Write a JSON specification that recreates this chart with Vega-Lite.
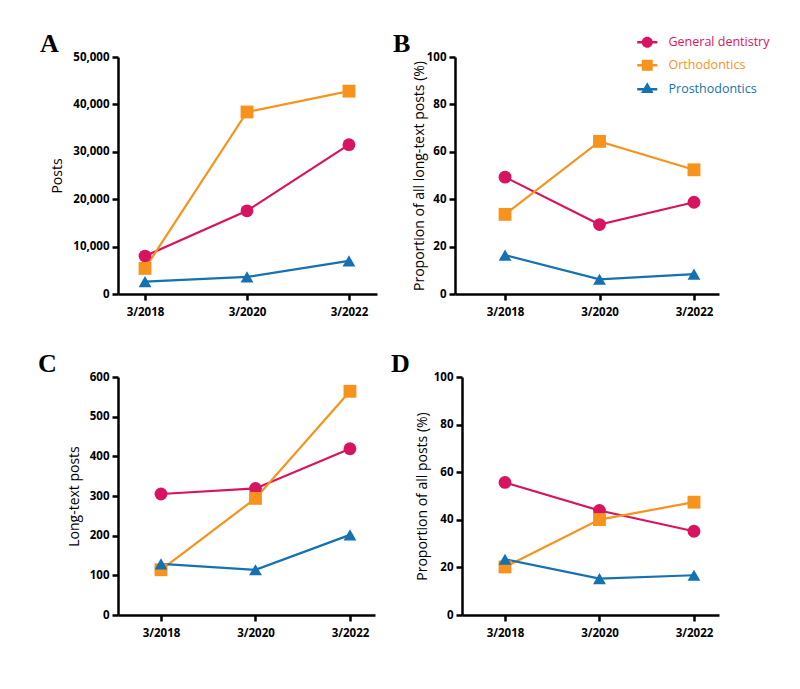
{
  "$schema": "https://vega.github.io/schema/vega-lite/v6.json",
  "padding": {"left": 38, "top": 31, "right": 5, "bottom": 5},
  "background": "white",
  "data": {"values": [
    {"panel": "A", "year": 2018, "specialty": "General dentistry", "value": 8000},
    {"panel": "A", "year": 2020, "specialty": "General dentistry", "value": 17550},
    {"panel": "A", "year": 2022, "specialty": "General dentistry", "value": 31500},
    {"panel": "A", "year": 2018, "specialty": "Orthodontics", "value": 5400},
    {"panel": "A", "year": 2020, "specialty": "Orthodontics", "value": 38400},
    {"panel": "A", "year": 2022, "specialty": "Orthodontics", "value": 42800},
    {"panel": "A", "year": 2018, "specialty": "Prosthodontics", "value": 2600},
    {"panel": "A", "year": 2020, "specialty": "Prosthodontics", "value": 3600},
    {"panel": "A", "year": 2022, "specialty": "Prosthodontics", "value": 7000},
    {"panel": "B", "year": 2018, "specialty": "General dentistry", "value": 49.3},
    {"panel": "B", "year": 2020, "specialty": "General dentistry", "value": 29.3},
    {"panel": "B", "year": 2022, "specialty": "General dentistry", "value": 38.7},
    {"panel": "B", "year": 2018, "specialty": "Orthodontics", "value": 33.6},
    {"panel": "B", "year": 2020, "specialty": "Orthodontics", "value": 64.4},
    {"panel": "B", "year": 2022, "specialty": "Orthodontics", "value": 52.4},
    {"panel": "B", "year": 2018, "specialty": "Prosthodontics", "value": 16.4},
    {"panel": "B", "year": 2020, "specialty": "Prosthodontics", "value": 6.2},
    {"panel": "B", "year": 2022, "specialty": "Prosthodontics", "value": 8.4},
    {"panel": "C", "year": 2018, "specialty": "General dentistry", "value": 305},
    {"panel": "C", "year": 2020, "specialty": "General dentistry", "value": 319},
    {"panel": "C", "year": 2022, "specialty": "General dentistry", "value": 419},
    {"panel": "C", "year": 2018, "specialty": "Orthodontics", "value": 114},
    {"panel": "C", "year": 2020, "specialty": "Orthodontics", "value": 294},
    {"panel": "C", "year": 2022, "specialty": "Orthodontics", "value": 564},
    {"panel": "C", "year": 2018, "specialty": "Prosthodontics", "value": 129},
    {"panel": "C", "year": 2020, "specialty": "Prosthodontics", "value": 114},
    {"panel": "C", "year": 2022, "specialty": "Prosthodontics", "value": 202},
    {"panel": "D", "year": 2018, "specialty": "General dentistry", "value": 55.7},
    {"panel": "D", "year": 2020, "specialty": "General dentistry", "value": 43.9},
    {"panel": "D", "year": 2022, "specialty": "General dentistry", "value": 35.2},
    {"panel": "D", "year": 2018, "specialty": "Orthodontics", "value": 20.2},
    {"panel": "D", "year": 2020, "specialty": "Orthodontics", "value": 40.1},
    {"panel": "D", "year": 2022, "specialty": "Orthodontics", "value": 47.4},
    {"panel": "D", "year": 2018, "specialty": "Prosthodontics", "value": 23.4},
    {"panel": "D", "year": 2020, "specialty": "Prosthodontics", "value": 15.3},
    {"panel": "D", "year": 2022, "specialty": "Prosthodontics", "value": 16.7}
  ]},
  "spacing": 33,
  "vconcat": [
    {
      "spacing": 16,
      "hconcat": [
        {
          "title": {"text": "A", "dx": -78, "dy": 10},
          "width": 259, "height": 237,
          "transform": [{"filter": "datum.panel === 'A'"}],
          "encoding": {
            "x": {"field": "year", "type": "quantitative", "scale": {"domain": [2017.47, 2022.55], "nice": false, "zero": false}, "axis": {"values": [2018, 2020, 2022], "labelExpr": "'3/' + datum.value", "title": null}},
            "y": {"field": "value", "type": "quantitative", "scale": {"domain": [0, 50000], "nice": false}, "axis": {"values": [0, 10000, 20000, 30000, 40000, 50000], "format": ",.0f", "title": "Posts"}},
            "color": {"field": "specialty", "type": "nominal", "scale": {"domain": ["General dentistry", "Orthodontics", "Prosthodontics"], "range": ["#D81460", "#F7931D", "#1572B0"]},
              "legend": {"title": null, "orient": "none", "legendX": 523, "legendY": -21, "padding": 0, "symbolSize": 100, "symbolStrokeWidth": 0, "symbolOpacity": 1, "labelOffset": 15, "rowPadding": 10, "labelFont": "Open Sans", "labelFontSize": 12.5,
                "encode": {"labels": {"update": {"fill": {"signal": "scale('color', datum.value)"}}}}}}
          },
          "layer": [
            {"mark": {"type": "line", "strokeWidth": 2.2}},
            {"mark": {"type": "point", "filled": true, "size": 165, "opacity": 1}, "encoding": {"shape": {"condition": [{"test": "datum.specialty === 'General dentistry'", "value": "circle"}, {"test": "datum.specialty === 'Orthodontics'", "value": "square"}], "value": "triangle-up"}}},
            {"mark": {"type": "point", "filled": true, "size": 100, "opacity": 0}, "encoding": {"shape": {"field": "specialty", "type": "nominal", "scale": {"domain": ["General dentistry", "Orthodontics", "Prosthodontics"], "range": ["M-2,-0.25H2V0.25H-2ZM-1.1,0A1.1,1.1,0,1,1,1.1,0A1.1,1.1,0,1,1,-1.1,0Z", "M-2,-0.25H2V0.25H-2ZM-1.1,-1.1H1.1V1.1H-1.1Z", "M-2,-0.25H2V0.25H-2ZM0,-1.4L1.25,0.75L-1.25,0.75Z"]},
              "legend": {"title": null, "orient": "none", "legendX": 523, "legendY": -21, "padding": 0, "symbolSize": 100, "symbolStrokeWidth": 0, "symbolOpacity": 1, "labelOffset": 15, "rowPadding": 10, "labelFont": "Open Sans", "labelFontSize": 12.5,
                "encode": {"labels": {"update": {"fill": {"signal": "scale('color', datum.value)"}}}}}}}}
          ]
        },
        {
          "title": {"text": "B", "dx": -62, "dy": 10},
          "width": 264, "height": 237,
          "transform": [{"filter": "datum.panel === 'B'"}],
          "encoding": {
            "x": {"field": "year", "type": "quantitative", "scale": {"domain": [2016.94, 2022.53], "nice": false, "zero": false}, "axis": {"values": [2018, 2020, 2022], "labelExpr": "'3/' + datum.value", "title": null}},
            "y": {"field": "value", "type": "quantitative", "scale": {"domain": [0, 100], "nice": false}, "axis": {"values": [0, 20, 40, 60, 80, 100], "format": "d", "title": "Proportion of all long-text posts (%)", "titlePadding": 0}},
            "color": {"field": "specialty", "type": "nominal", "scale": {"domain": ["General dentistry", "Orthodontics", "Prosthodontics"], "range": ["#D81460", "#F7931D", "#1572B0"]},
              "legend": {"title": null, "orient": "none", "legendX": 523, "legendY": -21, "padding": 0, "symbolSize": 100, "symbolStrokeWidth": 0, "symbolOpacity": 1, "labelOffset": 15, "rowPadding": 10, "labelFont": "Open Sans", "labelFontSize": 12.5,
                "encode": {"labels": {"update": {"fill": {"signal": "scale('color', datum.value)"}}}}}}
          },
          "layer": [
            {"mark": {"type": "line", "strokeWidth": 2.2}},
            {"mark": {"type": "point", "filled": true, "size": 165, "opacity": 1}, "encoding": {"shape": {"condition": [{"test": "datum.specialty === 'General dentistry'", "value": "circle"}, {"test": "datum.specialty === 'Orthodontics'", "value": "square"}], "value": "triangle-up"}}}
          ]
        }
      ]
    },
    {
      "spacing": 16,
      "hconcat": [
        {
          "title": {"text": "C", "dx": -80, "dy": 10},
          "width": 257, "height": 238,
          "transform": [{"filter": "datum.panel === 'C'"}],
          "encoding": {
            "x": {"field": "year", "type": "quantitative", "scale": {"domain": [2017.09, 2022.53], "nice": false, "zero": false}, "axis": {"values": [2018, 2020, 2022], "labelExpr": "'3/' + datum.value", "title": null}},
            "y": {"field": "value", "type": "quantitative", "scale": {"domain": [0, 600], "nice": false}, "axis": {"values": [0, 100, 200, 300, 400, 500, 600], "format": "d", "title": "Long-text posts"}},
            "color": {"field": "specialty", "type": "nominal", "scale": {"domain": ["General dentistry", "Orthodontics", "Prosthodontics"], "range": ["#D81460", "#F7931D", "#1572B0"]},
              "legend": {"title": null, "orient": "none", "legendX": 523, "legendY": -21, "padding": 0, "symbolSize": 100, "symbolStrokeWidth": 0, "symbolOpacity": 1, "labelOffset": 15, "rowPadding": 10, "labelFont": "Open Sans", "labelFontSize": 12.5,
                "encode": {"labels": {"update": {"fill": {"signal": "scale('color', datum.value)"}}}}}}
          },
          "layer": [
            {"mark": {"type": "line", "strokeWidth": 2.2}},
            {"mark": {"type": "point", "filled": true, "size": 165, "opacity": 1}, "encoding": {"shape": {"condition": [{"test": "datum.specialty === 'General dentistry'", "value": "circle"}, {"test": "datum.specialty === 'Orthodontics'", "value": "square"}], "value": "triangle-up"}}}
          ]
        },
        {
          "title": {"text": "D", "dx": -71, "dy": 10},
          "width": 257, "height": 238,
          "transform": [{"filter": "datum.panel === 'D'"}],
          "encoding": {
            "x": {"field": "year", "type": "quantitative", "scale": {"domain": [2017.09, 2022.53], "nice": false, "zero": false}, "axis": {"values": [2018, 2020, 2022], "labelExpr": "'3/' + datum.value", "title": null}},
            "y": {"field": "value", "type": "quantitative", "scale": {"domain": [0, 100], "nice": false}, "axis": {"values": [0, 20, 40, 60, 80, 100], "format": "d", "title": "Proportion of all posts (%)", "titlePadding": 4}},
            "color": {"field": "specialty", "type": "nominal", "scale": {"domain": ["General dentistry", "Orthodontics", "Prosthodontics"], "range": ["#D81460", "#F7931D", "#1572B0"]},
              "legend": {"title": null, "orient": "none", "legendX": 523, "legendY": -21, "padding": 0, "symbolSize": 100, "symbolStrokeWidth": 0, "symbolOpacity": 1, "labelOffset": 15, "rowPadding": 10, "labelFont": "Open Sans", "labelFontSize": 12.5,
                "encode": {"labels": {"update": {"fill": {"signal": "scale('color', datum.value)"}}}}}}
          },
          "layer": [
            {"mark": {"type": "line", "strokeWidth": 2.2}},
            {"mark": {"type": "point", "filled": true, "size": 165, "opacity": 1}, "encoding": {"shape": {"condition": [{"test": "datum.specialty === 'General dentistry'", "value": "circle"}, {"test": "datum.specialty === 'Orthodontics'", "value": "square"}], "value": "triangle-up"}}}
          ]
        }
      ]
    }
  ],
  "config": {
    "view": {"stroke": null},
    "title": {"anchor": "start", "frame": "group", "font": "Liberation Serif", "fontSize": 26, "fontWeight": "bold", "color": "black", "offset": 0},
    "axis": {
      "grid": false,
      "domainColor": "black", "domainWidth": 2.5,
      "tickColor": "black", "tickWidth": 2.5, "tickSize": 6,
      "labelFont": "Open Sans", "labelFontWeight": "bold", "labelFontSize": 11.5, "labelColor": "black",
      "titleFont": "Open Sans", "titleFontWeight": "normal", "titleFontSize": 14, "titleColor": "black"
    },
    "axisX": {"labelPadding": 6},
    "axisY": {"labelPadding": 3, "titlePadding": 8}
  }
}
